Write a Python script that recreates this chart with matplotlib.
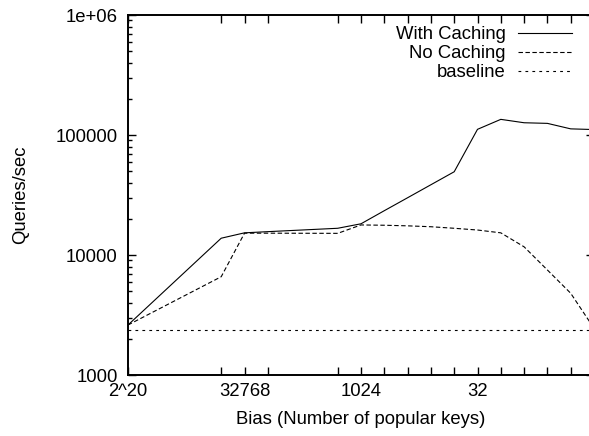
import matplotlib
matplotlib.use("Agg")
import matplotlib.pyplot as plt
from matplotlib.ticker import LogLocator, NullFormatter, FixedLocator

# number of popular keys (x), queries/sec (y)
keys = [2**20, 65536, 32768, 16384, 2048, 1024, 512, 256, 128, 64, 32, 16, 8, 4, 2, 1]
with_caching = [2610, 13800, 15300, 15650, 16700, 18200, 23400, 30000, 38500, 49400,
                111500, 135000, 126500, 125000, 112500, 111000]
no_caching = [2610, 6590, 15200, 15200, 15150, 17800, 17700, 17500, 17200, 16700,
              16150, 15300, 11700, 7500, 4800, 2450]
baseline = [2370] * len(keys)

tick_labels = {2**20: "2^20", 32768: "32768", 1024: "1024", 32: "32"}

plt.rcParams['font.family'] = ['Liberation Sans', 'DejaVu Sans']
plt.rcParams['font.size'] = 13.3
plt.rcParams['lines.scale_dashes'] = False

fig = plt.figure(figsize=(5.89, 4.36), dpi=100)
ax = fig.add_axes([128 / 589, 61 / 436, 466 / 589, 360 / 436])

ax.plot(keys, with_caching, color='black', lw=0.8, label='With Caching')
ax.plot(keys, no_caching, color='black', lw=0.8, linestyle=(0, (3.2, 1.8)), label='No Caching')
ax.plot(keys, baseline, color='black', lw=0.8, linestyle=(0, (2.0, 3.0)), label='baseline')

ax.set_xscale('log', base=2)
ax.set_yscale('log')
ax.set_xlim(2**20, 1)
ax.set_ylim(1000, 1e6)

# x ticks at every measured point, labels at a few
ax.xaxis.set_major_locator(FixedLocator(keys))
ax.set_xticklabels([tick_labels.get(k, "") for k in keys])
ax.xaxis.set_minor_locator(FixedLocator([]))

ax.yaxis.set_major_locator(FixedLocator([1000, 10000, 100000, 1e6]))
ax.set_yticklabels(["1000", "10000", "100000", "1e+06"])
ax.yaxis.set_minor_locator(LogLocator(base=10, subs=range(2, 10)))
ax.yaxis.set_minor_formatter(NullFormatter())

ax.tick_params(which='both', direction='in', top=True, right=True, width=1.0, color='black')
ax.tick_params(which='major', length=5.8)
ax.tick_params(which='minor', length=2.9)
ax.tick_params(axis='y', pad=7.5)
ax.tick_params(axis='x', pad=6)

for s in ax.spines.values():
    s.set_linewidth(1.4)

ax.set_xlabel('Bias (Number of popular keys)')
ax.set_ylabel('Queries/sec')
ax.xaxis.set_label_coords(0.5, -0.1)
ax.yaxis.set_label_coords(-0.212, 0.5)

ax.legend(loc='upper right', bbox_to_anchor=(572 / 589, (436 - 26) / 436),
          bbox_transform=fig.transFigure, frameon=False, markerfirst=False,
          borderpad=0, borderaxespad=0, handlelength=2.9, handletextpad=0.7,
          labelspacing=0.12)

fig.savefig('out.png', dpi=100)
